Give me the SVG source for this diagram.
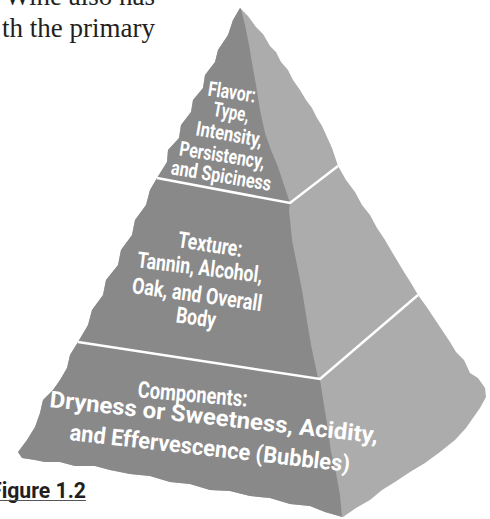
<svg xmlns="http://www.w3.org/2000/svg" width="490" height="519" viewBox="0 0 490 519">
<style>
.serif{font-family:"Liberation Serif","Times New Roman",serif;font-size:27px;fill:#231f20}
.lbl{font-family:Roboto,"Liberation Sans",Arial,sans-serif;font-weight:700;fill:#ffffff;text-anchor:middle}
.t1{font-size:20.5px}
.t2{font-size:22.5px}
.t3{font-size:23px}
.sep{fill:none;stroke:#ffffff;stroke-width:2.5;stroke-linejoin:miter}
.fig{font-family:Roboto,"Liberation Sans",Arial,sans-serif;font-weight:700;font-size:22px;fill:#231f20}
</style>
<rect width="490" height="519" fill="#ffffff"/>
<g id="body-text">
<text class="serif" x="155" y="5" text-anchor="end">Wine also has</text>
<text class="serif" x="155" y="37" text-anchor="end">th the primary</text>
</g>
<g id="pyramid">
<path id="right-face" fill="#acacac" d="M240,8 L248,16 256,27 263,34 270,46 276,52 281,62 288,70 293,80 300,90 306,100 312,108 317,118 322,126 327,137 332,148 335,157 338,166 346,180 355,192 362,205 370,215 377,228 385,240 392,252 398,262 404,272 411,283 418,295 426,306 434,318 442,330 450,342 456,352 464,360 470,373 478,378 485,388 486,397 480,408 473,418 466,428 455,440 440,452 425,463 410,472 395,482 382,490 370,500 356,508 343,517 325,512 310,506 290,504 270,498 250,496 230,491 210,490 190,484 170,482 150,476 130,474 110,470 95,466 75,466 60,462 45,462 35,460 22,458 18,452 27,440 35,427 40,413 43,400 53,390 60,380 67,368 70,355 78,342 88,325 92,310 103,295 106,280 118,265 121,250 132,235 135,220 146,205 150,190 157,178 167,162 168,150 179,138 181,125 191,112 193,100 203,88 205,75 215,62 218,50 228,35 233,20 Z"/>
<path id="front-face" fill="#898989" d="M240,8 L241,9 245,25 249,45 252,63 256,85 260,110 265,133 271,150 278,167 284,185 290,203 289,210 292,240 297,265 302,290 306,315 311,345 318,378 320,380 324,405 328,430 331,452 336,473 340,495 342,517 325,512 310,506 290,504 270,498 250,496 230,491 210,490 190,484 170,482 150,476 130,474 110,470 95,466 75,466 60,462 45,462 35,460 22,458 18,452 27,440 35,427 40,413 43,400 53,390 60,380 67,368 70,355 78,342 88,325 92,310 103,295 106,280 118,265 121,250 132,235 135,220 146,205 150,190 157,178 167,162 168,150 179,138 181,125 191,112 193,100 203,88 205,75 215,62 218,50 228,35 233,20 Z"/>
</g>
<g id="connectors">
<polyline class="sep" points="157,178 290,203 338,166"/>
<polyline class="sep" points="78,342 320,379 418,295"/>
</g>
<g id="tier-flavor">
<text class="lbl t1" transform="translate(231,99) rotate(8.5)" textLength="48" lengthAdjust="spacingAndGlyphs">Flavor:</text>
<text class="lbl t1" transform="translate(230,119) rotate(10)" textLength="36" lengthAdjust="spacingAndGlyphs">Type,</text>
<text class="lbl t1" transform="translate(228,141) rotate(10)" textLength="67" lengthAdjust="spacingAndGlyphs">Intensity,</text>
<text class="lbl t1" transform="translate(221,162) rotate(9)" textLength="86" lengthAdjust="spacingAndGlyphs">Persistency,</text>
<text class="lbl t1" transform="translate(220,182.5) rotate(9.5)" textLength="101" lengthAdjust="spacingAndGlyphs">and Spiciness</text>
</g>
<g id="tier-texture">
<text class="lbl t2" transform="translate(209,252) rotate(9)" textLength="65" lengthAdjust="spacingAndGlyphs">Texture:</text>
<text class="lbl t2" transform="translate(199,275) rotate(7)" textLength="126" lengthAdjust="spacingAndGlyphs">Tannin, Alcohol,</text>
<text class="lbl t2" transform="translate(196,302) rotate(8)" textLength="131" lengthAdjust="spacingAndGlyphs">Oak, and Overall</text>
<text class="lbl t2" transform="translate(195,325) rotate(8)" textLength="40" lengthAdjust="spacingAndGlyphs">Body</text>
</g>
<g id="tier-components">
<text class="lbl t3" transform="translate(192,402) rotate(5)" textLength="110" lengthAdjust="spacingAndGlyphs">Components:</text>
<text class="lbl t3" transform="translate(213,425) rotate(6.3)" textLength="330" lengthAdjust="spacingAndGlyphs">Dryness or Sweetness, Acidity,</text>
<text class="lbl t3" transform="translate(209,456) rotate(6.5)" textLength="282" lengthAdjust="spacingAndGlyphs">and Effervescence (Bubbles)</text>
</g>
<g id="caption">
<text class="fig" x="-10" y="498" textLength="96" lengthAdjust="spacingAndGlyphs">Figure 1.2</text>
<line x1="0" y1="500.5" x2="86" y2="500.5" stroke="#555555" stroke-width="1"/>
</g>
</svg>
